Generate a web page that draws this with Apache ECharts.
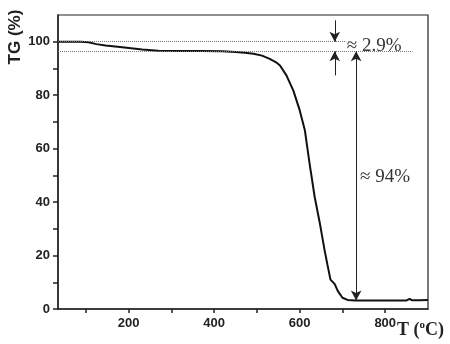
<!DOCTYPE html>
<html>
<head>
<meta charset="utf-8">
<script src="https://cdn.jsdelivr.net/npm/echarts@6/dist/echarts.min.js"></script>
<style>
  html, body { margin: 0; padding: 0; background: #fff; }
  #main { width: 450px; height: 344px; }
</style>
</head>
<body>
<div id="main"></div>
<script>
// TG curve, [temperature (C), mass (%)]
var tgCurve = [
  [35, 100], [60, 100], [88, 100], [106, 99.8], [125, 99.1], [146, 98.6],
  [180, 98.0], [232, 97.1], [269, 96.6], [320, 96.5], [370, 96.5], [418, 96.4],
  [450, 96.2], [472, 95.9], [492, 95.5], [512, 94.8], [530, 93.6], [545, 92.3],
  [554, 91.1], [569, 87.4], [585, 81.8], [600, 74.4], [612, 67.0], [623, 54.6],
  [635, 42.0], [647, 32.2], [658, 22.2], [665, 16.5], [672, 11.0], [682, 9.3],
  [689, 6.8], [700, 4.2], [712, 3.4], [730, 3.2], [800, 3.2], [850, 3.2],
  [857, 3.8], [862, 3.3], [880, 3.3], [900, 3.4]
];
var xTicks = [100, 200, 300, 400, 500, 600, 700, 800];
var xLabels = [200, 400, 600, 800];
var yTicks = [0, 10, 20, 30, 40, 50, 60, 70, 80, 90, 100];
var yLabels = [0, 20, 40, 60, 80, 100];

// annotation levels
var startLevel = 100;
var plateauLevel = 96.4;
var residueLevel = 3.2;
var smallArrowX = 682;
var bigArrowX = 732;
var labelSmall = '≈ 2.9%';
var labelBig = '≈ 94%';

var dotted = { type: 'dotted', color: '#777', width: 1 };
var solid = { type: 'solid', color: '#222', width: 1 };

var option = {
  animation: false,
  grid: { left: 58, top: 15, right: 22, bottom: 35, show: true, borderColor: '#222', borderWidth: 1.2 },
  xAxis: {
    type: 'value', min: 35, max: 900,
    axisLine: { lineStyle: { color: '#222', width: 1.5 } },
    axisTick: { customValues: xTicks, length: 4, lineStyle: { color: '#222', width: 1.5 } },
    axisLabel: { customValues: xLabels, color: '#222', fontFamily: 'Liberation Sans', fontWeight: 'bold', fontSize: 13, margin: 8 },
    splitLine: { show: false }
  },
  yAxis: {
    type: 'value', min: 0, max: 110,
    axisLine: { show: true, lineStyle: { color: '#222', width: 1.5 } },
    axisTick: { show: true, customValues: yTicks, length: 5, lineStyle: { color: '#222', width: 1.5 } },
    axisLabel: { customValues: yLabels, color: '#222', fontFamily: 'Liberation Sans', fontWeight: 'bold', fontSize: 13, margin: 8 },
    splitLine: { show: false }
  },
  graphic: [
    {
      type: 'text', x: 15, y: 37, rotation: Math.PI / 2,
      style: { text: 'TG (%)', fill: '#222', font: 'bold 17px "Liberation Sans"', align: 'center', verticalAlign: 'middle' }
    },
    {
      type: 'text', x: 397, y: 330,
      style: {
        text: '{a|T (}{s|o}{a|C)}', align: 'left', verticalAlign: 'middle',
        rich: {
          a: { fontFamily: 'Liberation Serif', fontWeight: 'bold', fontSize: 18, fill: '#222' },
          s: { fontFamily: 'Liberation Serif', fontWeight: 'bold', fontSize: 11, fill: '#222', verticalAlign: 'top', padding: [0, 0, 9, 0] }
        }
      }
    }
  ],
  series: [{
    type: 'line',
    data: tgCurve,
    showSymbol: false,
    lineStyle: { color: '#111', width: 2 },
    z: 3,
    markLine: {
      silent: true,
      symbol: 'none',
      label: { show: false },
      data: [
        [{ coord: [35, startLevel], lineStyle: dotted }, { coord: [709, startLevel] }],
        [{ coord: [35, plateauLevel], lineStyle: dotted }, { coord: [864, plateauLevel] }],
        [{ coord: [smallArrowX, 108], lineStyle: solid, symbol: 'none' }, { coord: [smallArrowX, startLevel], symbol: 'arrow', symbolSize: [8, 10] }],
        [{ coord: [smallArrowX, 87.4], lineStyle: solid, symbol: 'none' }, { coord: [smallArrowX, plateauLevel], symbol: 'arrow', symbolSize: [8, 10] }],
        [{ coord: [bigArrowX, plateauLevel], lineStyle: solid, symbol: 'arrow', symbolSize: [8, 10] }, { coord: [bigArrowX, residueLevel], symbol: 'arrow', symbolSize: [8, 10] }]
      ]
    },
    markPoint: {
      silent: true,
      symbol: 'circle', symbolSize: 0,
      label: { show: true, position: 'right', distance: 0, color: '#333', fontFamily: 'Liberation Serif', fontSize: 19 },
      data: [
        { coord: [710, 98.4], label: { formatter: labelSmall } },
        { coord: [741, 49.4], label: { formatter: labelBig } }
      ]
    }
  }]
};

var myChart = echarts.init(document.getElementById('main'));
myChart.setOption(option);
</script>
</body>
</html>
